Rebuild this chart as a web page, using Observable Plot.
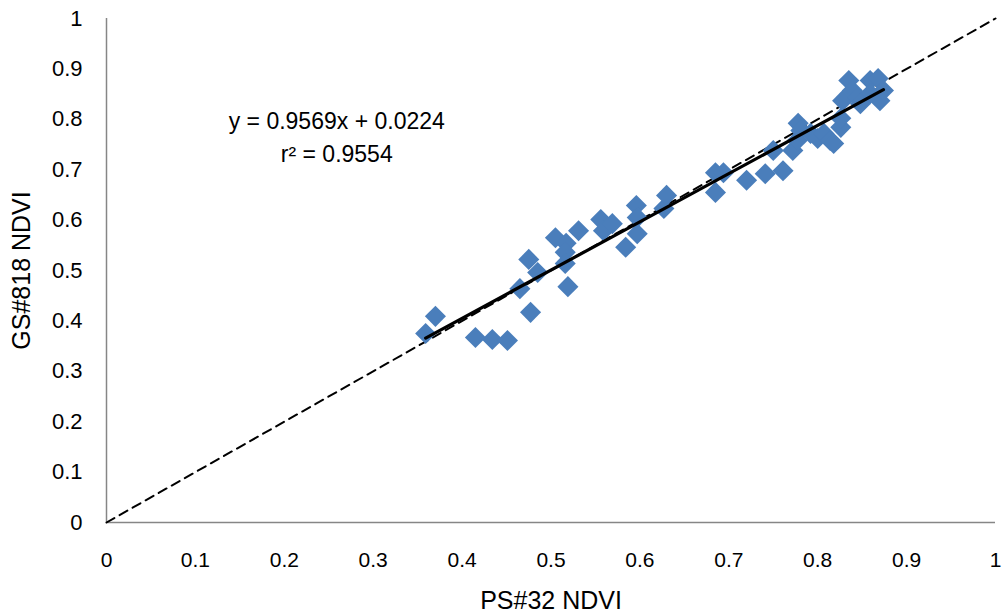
<!DOCTYPE html>
<html>
<head>
<meta charset="utf-8">
<script src="https://cdn.jsdelivr.net/npm/d3@7"></script>
<script src="https://cdn.jsdelivr.net/npm/@observablehq/plot@0.6"></script>
<style>
  html, body { margin: 0; padding: 0; background: #fff; }
  #chart svg { display: block; }
  g[aria-label="x-axis label"], g[aria-label="y-axis label"] { font-size: 25px; }
</style>
</head>
<body>
<div id="chart"></div>
<script>
// NDVI pairs: PS#32 (x) against GS#818 (y)
const psNdvi = [
  0.359, 0.370, 0.415, 0.434, 0.451, 0.465, 0.477, 0.475, 0.485, 0.505,
  0.517, 0.516, 0.516, 0.519, 0.531, 0.556, 0.559, 0.569, 0.584, 0.596,
  0.597, 0.597, 0.627, 0.630, 0.685, 0.694, 0.685, 0.720, 0.741, 0.761,
  0.750, 0.772, 0.778, 0.781, 0.777, 0.792, 0.800, 0.807, 0.814, 0.818,
  0.826, 0.826, 0.828, 0.835, 0.839, 0.845, 0.859, 0.868, 0.870, 0.874,
  0.859, 0.848
];
const gsNdvi = [
  0.375, 0.409, 0.367, 0.363, 0.361, 0.464, 0.417, 0.522, 0.496, 0.565,
  0.554, 0.536, 0.514, 0.468, 0.579, 0.601, 0.579, 0.593, 0.546, 0.629,
  0.605, 0.573, 0.623, 0.649, 0.694, 0.694, 0.655, 0.679, 0.692, 0.698,
  0.738, 0.738, 0.792, 0.778, 0.758, 0.772, 0.762, 0.772, 0.758, 0.752,
  0.784, 0.802, 0.837, 0.877, 0.857, 0.843, 0.877, 0.881, 0.837, 0.857,
  0.851, 0.831
];

// Least-squares fit as reported on the chart
const fitSlope = [0.9569];
const fitIntercept = [0.0224];
const fitR2 = [0.9554];

// Axis ticks
const xTicks = [0, 0.1, 0.2, 0.3, 0.4, 0.5, 0.6, 0.7, 0.8, 0.9, 1];
const yTicks = [0, 0.1, 0.2, 0.3, 0.4, 0.5, 0.6, 0.7, 0.8, 0.9, 1];

const points = psNdvi.map((x, i) => ({x, y: gsNdvi[i]}));
const [xMin, xMax] = d3.extent(psNdvi);
const fitLine = [xMin, xMax].map(x => ({x, y: fitSlope[0] * x + fitIntercept[0]}));
const oneToOne = [0, 1].map(v => ({x: v, y: v}));
const eqText = `y = ${fitSlope[0]}x + ${fitIntercept[0]}\nr² = ${fitR2[0]}`;

const chart = Plot.plot({
  width: 1006,
  height: 616,
  marginLeft: 106,
  marginRight: 11,
  marginTop: 18,
  marginBottom: 94,
  style: {fontFamily: "'Liberation Sans', Arial, sans-serif", background: "#fff", color: "#000"},
  x: {domain: [0, 1]},
  y: {domain: [0, 1]},
  marks: [
    Plot.ruleY([0], {stroke: "#868686", strokeWidth: 1.5}),
    Plot.ruleX([0], {stroke: "#868686", strokeWidth: 1.5}),
    Plot.axisX(xTicks, {
      tickSize: 0, tickPadding: 30, fontSize: 21, tickFormat: d => String(d),
      label: "PS#32 NDVI", labelAnchor: "center", labelArrow: "none", labelOffset: 86
    }),
    Plot.axisY(yTicks, {
      tickSize: 0, tickPadding: 24, fontSize: 22, tickFormat: d => String(d),
      label: "GS#818 NDVI", labelAnchor: "center", labelArrow: "none", labelOffset: 94
    }),
    Plot.line(oneToOne, {x: "x", y: "y", stroke: "#000", strokeWidth: 2, strokeDasharray: "9,6"}),
    Plot.dot(points, {x: "x", y: "y", symbol: "diamond2", r: 9.5, fill: "#4a7ebb", stroke: "none"}),
    Plot.line(fitLine, {x: "x", y: "y", stroke: "#000", strokeWidth: 3.2}),
    Plot.text([eqText], {
      x: 0.259, y: 0.769, text: d => d, fontSize: 23, lineHeight: 1.43,
      textAnchor: "middle", fill: "#000"
    })
  ]
});

document.getElementById("chart").appendChild(chart);
</script>
</body>
</html>
